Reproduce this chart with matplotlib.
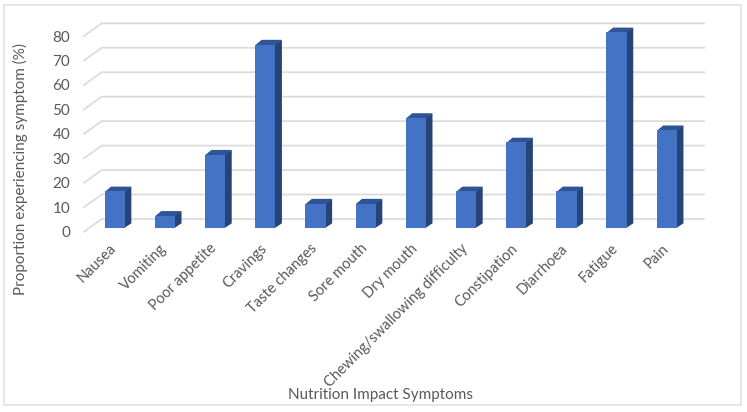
import matplotlib
matplotlib.use('Agg')
import matplotlib.pyplot as plt
from matplotlib.patches import Rectangle

symptoms = ['Nausea', 'Vomiting', 'Poor appetite', 'Cravings', 'Taste changes', 'Sore mouth',
            'Dry mouth', 'Chewing/swallowing difficulty', 'Constipation', 'Diarrhoea', 'Fatigue', 'Pain']
proportion = [15, 5, 30, 75, 10, 10, 45, 15, 35, 15, 80, 40]
y_ticks = [0, 10, 20, 30, 40, 50, 60, 70, 80]

W, H = 747, 412
plt.rcParams['font.family'] = ['Lato', 'DejaVu Sans']

fig = plt.figure(figsize=(W / 100, H / 100), dpi=100)
# axes box = front edge of the floor, in pixels
left, right, top, bottom = 84, 686.3, 36, 231.7
ax = fig.add_axes([left / W, 1 - bottom / H, (right - left) / W, (bottom - top) / H])
ax.set_xlim(-0.5, 11.5)
ax.set_ylim(0, 80)

px_x = (right - left) / 12  # pixels per category
px_y = (bottom - top) / 80  # pixels per percent

# pseudo 3d depths, pixels converted to data units
wall_dx, wall_dy = 17.7 / px_x, 12.7 / px_y
front_dx, front_dy = 5.6 / px_x, 3.7 / px_y
side_dx, side_dy = 6.5 / px_x, 4.7 / px_y
bar_w = 20.3 / px_x
overlap = 0.6 / px_x  # hides the seam between front and side

# grid on the wall + the diagonal on the left side
for v in y_ticks:
    ax.plot([-0.5, -0.5 + wall_dx, 11.5 + wall_dx], [v, v + wall_dy, v + wall_dy],
            color='#dcdcdc', lw=1.3, clip_on=False, zorder=1, solid_joinstyle='miter')

xs = list(range(len(symptoms)))
for x, val in zip(xs, proportion):
    x0 = x - bar_w / 2 + front_dx
    x1 = x0 + bar_w
    b = front_dy
    t = val + front_dy
    ax.fill([x1 - overlap, x1 + side_dx, x1 + side_dx, x1 - overlap], [b, b + side_dy, t + side_dy, t],
            color='#264478', lw=0, clip_on=False, zorder=3)
    ax.fill([x0, x1, x1 + side_dx, x0 + side_dx], [t - 0.3, t - 0.3, t + side_dy, t + side_dy],
            color='#2F5597', lw=0, clip_on=False, zorder=3)
    ax.bar(x + front_dx, val, bar_w, bottom=b, color='#4472C4', lw=0, clip_on=False, zorder=4)

for s in ax.spines.values():
    s.set_visible(False)

ax.set_yticks(y_ticks)
ax.set_xticks(xs)
ax.set_xticklabels(symptoms, rotation=45, ha='right', va='top', rotation_mode='anchor')
ax.tick_params(axis='y', length=0, pad=10, labelsize=11, labelcolor='#595959')
ax.tick_params(axis='x', length=0, pad=7, labelsize=10.5, labelcolor='#595959')

fig.text(20 / W, 1 - 169 / H, 'Proportion experiencing symptom (%)', rotation=90,
         ha='center', va='center', fontsize=11, color='#595959')
fig.text(380 / W, 1 - 394.5 / H, 'Nutrition Impact Symptoms', ha='center', va='center',
         fontsize=11, color='#595959')

# thin frame round the chart
fig.add_artist(Rectangle((3.5 / W, 1 - 405 / H), 737 / W, 400 / H, transform=fig.transFigure,
                         fill=False, edgecolor='#e2e2e2', lw=1.2))

fig.savefig('out.png', dpi=100)
